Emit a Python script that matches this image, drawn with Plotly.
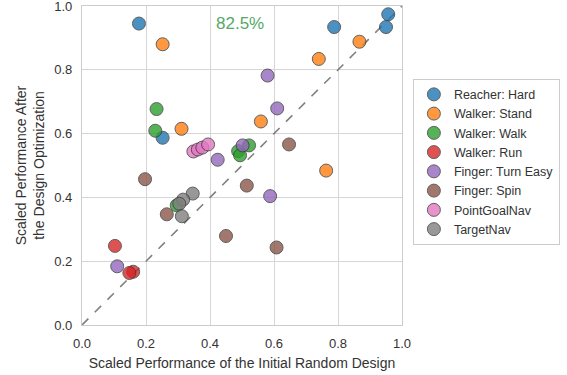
import plotly.graph_objects as go

series_names = ["Reacher: Hard", "Walker: Stand", "Walker: Walk", "Walker: Run",
                "Finger: Turn Easy", "Finger: Spin", "PointGoalNav", "TargetNav"]
series_colors = ["#1f77b4", "#ff7f0e", "#2ca02c", "#d62728",
                 "#9467bd", "#8c564b", "#e377c2", "#7f7f7f"]

reacher_hard_x = [0.178, 0.252, 0.788, 0.957, 0.950]
reacher_hard_y = [0.945, 0.587, 0.934, 0.974, 0.934]
walker_stand_x = [0.252, 0.311, 0.867, 0.740, 0.559, 0.763]
walker_stand_y = [0.880, 0.615, 0.888, 0.834, 0.638, 0.484]
walker_walk_x = [0.233, 0.229, 0.522, 0.488, 0.494, 0.296]
walker_walk_y = [0.677, 0.609, 0.563, 0.545, 0.532, 0.375]
walker_run_x = [0.103, 0.160, 0.148]
walker_run_y = [0.248, 0.167, 0.163]
finger_turn_x = [0.580, 0.610, 0.502, 0.424, 0.588, 0.110]
finger_turn_y = [0.782, 0.679, 0.563, 0.518, 0.404, 0.184]
finger_spin_x = [0.197, 0.265, 0.450, 0.647, 0.515, 0.608]
finger_spin_y = [0.457, 0.347, 0.279, 0.566, 0.437, 0.243]
pointgoal_x = [0.348, 0.362, 0.376, 0.394]
pointgoal_y = [0.544, 0.550, 0.556, 0.566]
targetnav_x = [0.346, 0.316, 0.304, 0.312]
targetnav_y = [0.412, 0.393, 0.380, 0.341]

series_x = [reacher_hard_x, walker_stand_x, walker_walk_x, walker_run_x,
            finger_turn_x, finger_spin_x, pointgoal_x, targetnav_x]
series_y = [reacher_hard_y, walker_stand_y, walker_walk_y, walker_run_y,
            finger_turn_y, finger_spin_y, pointgoal_y, targetnav_y]

improved_label = "82.5%"
tick_vals = [0.0, 0.2, 0.4, 0.6, 0.8, 1.0]
tick_text = ["0.0", "0.2", "0.4", "0.6", "0.8", "1.0"]

fig = go.Figure()
fig.add_trace(go.Scatter(x=[0, 1], y=[0, 1], mode="lines",
                         line=dict(color="#808080", width=1.6, dash="dash"),
                         showlegend=False, hoverinfo="skip", cliponaxis=True))
for name, color, xs, ys in zip(series_names, series_colors, series_x, series_y):
    fig.add_trace(go.Scatter(x=xs, y=ys, mode="markers", name=name, cliponaxis=False,
                             marker=dict(color=color, size=13, opacity=0.8,
                                         line=dict(color="#3a3a3a", width=1))))

fig.add_annotation(x=0.494, y=0.945, text=improved_label, showarrow=False,
                   font=dict(size=17, color="#55a868", family="Liberation Sans, Arial"))

axis_common = dict(range=[0, 1], tickvals=tick_vals, ticktext=tick_text,
                   showgrid=True, gridcolor="#d6d6d6", gridwidth=1,
                   showline=True, linecolor="#cccccc", linewidth=1.2, mirror=True,
                   zeroline=False, ticks="", automargin=False,
                   ticklabeloverflow="allow",
                   tickfont=dict(size=13, color="#333333"),
                   title_font=dict(size=14, color="#333333"))

fig.update_xaxes(**axis_common, title_text="Scaled Performance of the Initial Random Design",
                 title_standoff=8, ticklabelstandoff=6)
fig.update_yaxes(**axis_common, title_text="Scaled Performance After<br>the Design Optimization",
                 title_standoff=6, ticklabelstandoff=6)

fig.update_layout(
    width=567, height=375,
    margin=dict(l=82, r=165, t=6, b=50, autoexpand=False),
    plot_bgcolor="white", paper_bgcolor="white",
    font=dict(family="Liberation Sans, Arial", color="#333333"),
    legend=dict(x=1.034, y=0.772, xanchor="left", yanchor="top",
                bordercolor="#cccccc", borderwidth=1, font=dict(size=12.5, color="#333333"),
                itemwidth=30, tracegroupgap=0),
)

fig.write_html("out.html", config={"displayModeBar": False},
               post_script="document.body.style.margin='0px';")
